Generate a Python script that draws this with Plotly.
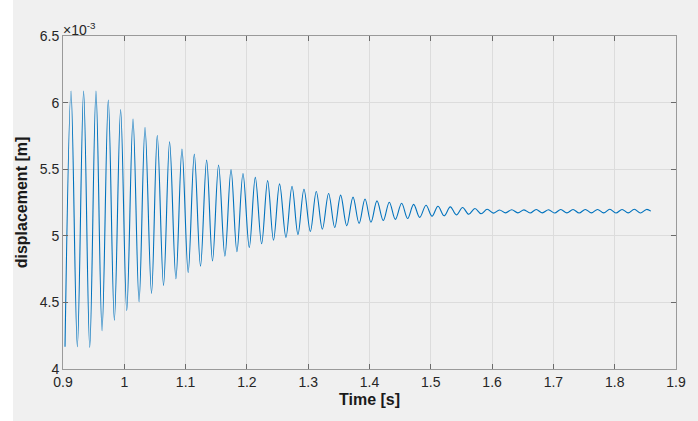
import plotly.graph_objects as go

# Times [s] and values [x10^-3 m] of the local minima (troughs)
trough_t = [0.9033, 0.9234, 0.9436, 0.9637, 0.9838, 1.0040, 1.0241, 1.0444, 1.0640, 1.0842,
            1.1042, 1.1243, 1.1439, 1.1641, 1.1837, 1.2039, 1.2240, 1.2434, 1.2637, 1.2833,
            1.3035, 1.3231, 1.3433, 1.3629, 1.3830, 1.4024, 1.4225, 1.4422, 1.4622, 1.4819,
            1.5020, 1.5218, 1.5418, 1.5619, 1.5820, 1.6020, 1.6220, 1.6420, 1.6620, 1.6820,
            1.7020, 1.7220, 1.7420, 1.7620, 1.7820, 1.8020, 1.8220, 1.8420]
trough_v = [4.167, 4.167, 4.162, 4.287, 4.367, 4.437, 4.505, 4.568, 4.628, 4.677,
            4.725, 4.772, 4.812, 4.847, 4.880, 4.913, 4.940, 4.967, 4.988, 5.010,
            5.033, 5.050, 5.063, 5.075, 5.093, 5.102, 5.115, 5.123, 5.130, 5.138,
            5.147, 5.150, 5.157, 5.162, 5.166, 5.170, 5.172, 5.172, 5.171, 5.172,
            5.171, 5.172, 5.171, 5.172, 5.172, 5.171, 5.172, 5.171]

# Times [s] and values [x10^-3 m] of the local maxima (peaks)
peak_t = [0.9131, 0.9336, 0.9538, 0.9739, 0.9940, 1.0142, 1.0338, 1.0538, 1.0739, 1.0941,
          1.1142, 1.1343, 1.1538, 1.1741, 1.1936, 1.2137, 1.2338, 1.2533, 1.2736, 1.2931,
          1.3132, 1.3333, 1.3529, 1.3731, 1.3927, 1.4122, 1.4323, 1.4524, 1.4720, 1.4922,
          1.5117, 1.5318, 1.5519, 1.5720, 1.5920, 1.6120, 1.6320, 1.6520, 1.6720, 1.6920,
          1.7120, 1.7320, 1.7520, 1.7720, 1.7920, 1.8120, 1.8320, 1.8520]
peak_v = [6.087, 6.087, 6.087, 6.020, 5.948, 5.877, 5.813, 5.753, 5.705, 5.652,
          5.613, 5.568, 5.532, 5.498, 5.468, 5.439, 5.414, 5.390, 5.372, 5.350,
          5.333, 5.318, 5.305, 5.290, 5.276, 5.262, 5.252, 5.244, 5.236, 5.229,
          5.222, 5.217, 5.212, 5.205, 5.199, 5.194, 5.196, 5.195, 5.197, 5.196,
          5.197, 5.197, 5.198, 5.198, 5.199, 5.198, 5.199, 5.198]

end_t = [1.8590]
end_v = [5.185]

x_ticks = [0.9, 1.0, 1.1, 1.2, 1.3, 1.4, 1.5, 1.6, 1.7, 1.8, 1.9]
y_ticks = [4.0, 4.5, 5.0, 5.5, 6.0, 6.5]

t, v = [], []
for a, b, c, d in zip(trough_t, trough_v, peak_t, peak_v):
    t += [a, c]
    v += [b, d]
t += end_t
v += end_v

FONT = "Liberation Sans, Arial, sans-serif"

fig = go.Figure()
fig.add_trace(go.Scatter(x=t, y=v, mode="lines",
                         line=dict(color="#0072BD", width=1.1, shape="spline", smoothing=1.0),
                         showlegend=False, hoverinfo="skip"))

axis_common = dict(
    showline=True, linecolor="#9a9a9a", linewidth=1, mirror="ticks",
    ticks="inside", ticklen=5, tickcolor="#6a6a6a",
    showgrid=True, gridcolor="#dcdcdc", gridwidth=1, zeroline=False,
    tickfont=dict(family=FONT, size=14, color="#262626"),
)

fig.update_xaxes(range=[0.9, 1.9], tickvals=x_ticks,
                 ticktext=[f"{x:g}" for x in x_ticks],
                 title=dict(text="<b>Time [s]</b>", standoff=5,
                            font=dict(family=FONT, size=16, color="#1a1a1a")),
                 **axis_common)
fig.update_yaxes(range=[4.0, 6.5], tickvals=y_ticks,
                 ticktext=[f"{y:g}" for y in y_ticks],
                 title=dict(text="<b>displacement [m]</b>", standoff=8,
                            font=dict(family=FONT, size=16, color="#1a1a1a")),
                 **axis_common)

fig.add_annotation(xref="paper", yref="paper", x=0.0, y=1.0, xanchor="left", yanchor="bottom",
                   text="×10<sup>-3</sup>", showarrow=False, xshift=-2, yshift=-4,
                   font=dict(family=FONT, size=14, color="#262626"))

fig.update_layout(
    width=698, height=421,
    margin=dict(l=63, r=22, t=36, b=52),
    paper_bgcolor="#f0f0f0", plot_bgcolor="#f0f0f0",
    shapes=[dict(type="rect", xref="paper", yref="paper", x0=-63/613, x1=-50/613,
                 y0=-52/333, y1=1 + 36/333, fillcolor="#ffffff", line=dict(width=0), layer="below")],
)

fig.write_html("out.html", config={"displayModeBar": False},
               post_script="document.body.style.margin='0';document.body.style.padding='0';")
